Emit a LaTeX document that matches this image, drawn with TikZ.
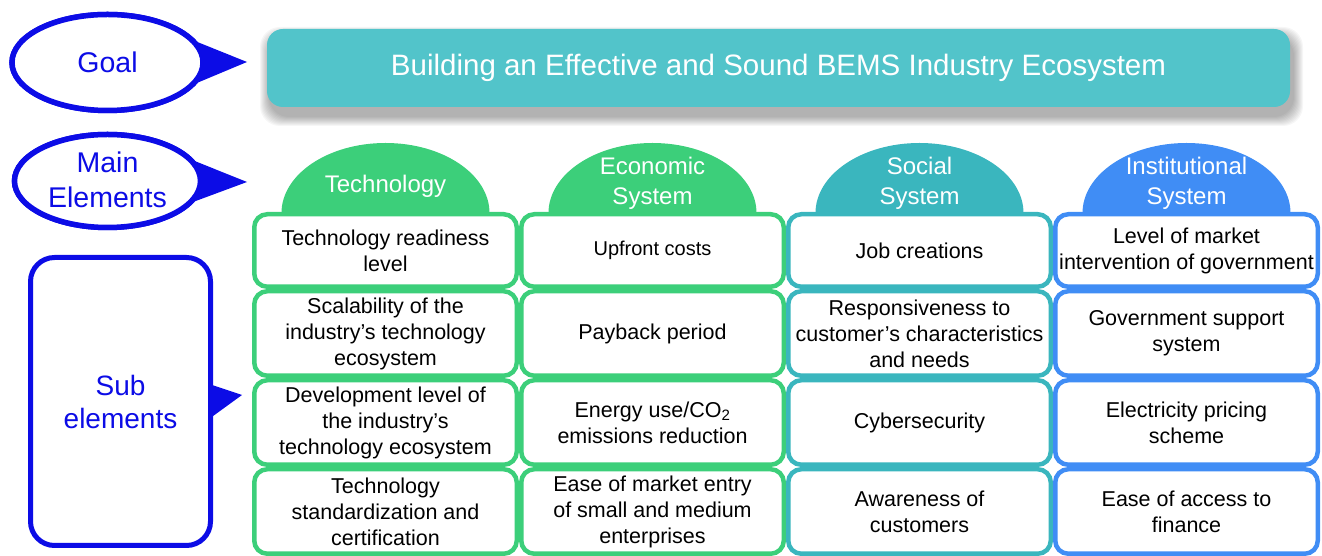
\documentclass[tikz,border=0pt]{standalone}
\usepackage{fontspec}
\setmainfont{Liberation Sans}
\usetikzlibrary{shapes.geometric}
\definecolor{cgreen}{HTML}{3CCF7A}
\definecolor{cteal}{HTML}{3AB6BE}
\definecolor{cblue}{HTML}{408DF5}
\definecolor{goalteal}{HTML}{52C4CA}
\definecolor{lblue}{HTML}{0C0CE6}
\begin{document}
\begin{tikzpicture}[x=1pt,y=1pt,
  cell/.style={draw, line width=4.5pt, rounded corners=13pt, fill=white,
    minimum width=262.5pt, inner sep=0pt, align=center, text=black,
    font=\fontsize{21.5}{26}\selectfont},
  rowa/.style={cell, minimum height=72.5pt},
  rowb/.style={cell, minimum height=84.5pt},
  domelabel/.style={text=white, align=center, inner sep=0pt, font=\fontsize{24}{30}\selectfont},
  lab/.style={text=lblue, align=center, inner sep=0pt, font=\fontsize{28.5}{35}\selectfont},
  callout/.style={ellipse, draw=lblue, line width=5.5pt, fill=white, inner sep=0pt}]
\useasboundingbox (0,0) rectangle (1322,556);

% ---------- goal bar with soft shadow ----------
\foreach \i in {1,...,10} {
  \fill[black, opacity=0.035, rounded corners=20pt]
    ({270-\i},{440-\i}) rectangle ({1293+\i},{519+\i});
}
\node[fill=goalteal, rounded corners=16pt, minimum width=1023pt, minimum height=78pt,
      inner sep=0pt, text=white, font=\fontsize{29.5}{34}\selectfont]
  (goalbar) at (778.5,488) {Building an Effective and Sound BEMS Industry Ecosystem};

% ---------- left callouts ----------
\node[callout, minimum width=191pt, minimum height=96pt] (goal) at (107.5,493.5) {};
\coordinate (goaltip) at (247,494);
\fill[lblue] ([xshift=-8pt]goal.17) -- (goaltip) -- ([xshift=-8pt]goal.-17) -- cycle;
\node[callout, minimum width=191pt, minimum height=96pt] at (107.5,493.5) {};
\node[lab] (goaltext) at (107.5,493.5) {Goal};

\node[callout, minimum width=186pt, minimum height=93pt] (mainel) at (107.5,375) {};
\coordinate (maintip) at (247,374);
\fill[lblue] ([xshift=-8pt]mainel.17) -- (maintip) -- ([xshift=-8pt]mainel.-17) -- cycle;
\node[callout, minimum width=186pt, minimum height=93pt] at (107.5,375) {};
\node[lab] (maintext) at (107.5,376) {Main\\Elements};

\coordinate (subtip) at (242,161);
\node[draw=lblue, line width=5pt, rounded corners=24pt, fill=white, minimum width=180pt,
      minimum height=288pt, inner sep=0pt] (subel) at (120.5,154.5) {};
\fill[lblue] ([xshift=-4pt,yshift=17.5pt]subel.east) -- (subtip) -- ([xshift=-4pt,yshift=-17.5pt]subel.east) -- cycle;
\node[lab, font=\fontsize{28}{33}\selectfont] (subtext) at (120.5,154) {Sub\\elements};

% ---------- domes ----------
\foreach \cx/\col in {385.5/cgreen, 652.5/cgreen, 919.5/cteal, 1186.5/cblue} {
  \fill[\col] ({\cx-104},336) -- ({\cx-104},343)
    arc[start angle=180, end angle=0, x radius=104, y radius=70]
    -- ({\cx+104},336) -- cycle;
}
\node[domelabel] (d1) at (385.5,370) {Technology};
\node[domelabel] (d2) at (652.5,373) {Economic\\System};
\node[domelabel] (d3) at (919.5,373) {Social\\System};
\node[domelabel] (d4) at (1186.5,373) {Institutional\\System};

% ---------- cells: Technology ----------
\node[rowa, draw=cgreen] (t1) at (385.5,305.5) {Technology readiness\\level};
\node[rowb, draw=cgreen] (t2) at (385.5,222.5) {Scalability of the\\industry’s technology\\ecosystem};
\node[rowb, draw=cgreen] (t3) at (385.5,133.5) {Development level of\\the industry’s\\technology ecosystem};
\node[rowb, draw=cgreen] (t4) at (385.5,44.5) {Technology\\standardization and\\certification};

% ---------- cells: Economic System ----------
\node[rowa, draw=cgreen] (e1) at (652.5,305.5) {\fontsize{20}{24}\selectfont Upfront costs};
\node[rowb, draw=cgreen] (e2) at (652.5,222.5) {Payback period};
\node[rowb, draw=cgreen] (e3) at (652.5,133.5) {Energy use/CO\textsubscript{2}\\emissions reduction};
\node[rowb, draw=cgreen] (e4) at (652.5,44.5) {Ease of market entry\\of small and medium\\enterprises};

% ---------- cells: Social System ----------
\node[rowa, draw=cteal] (s1) at (919.5,305.5) {Job creations};
\node[rowb, draw=cteal] (s2) at (919.5,222.5) {Responsiveness to\\customer’s characteristics\\and needs};
\node[rowb, draw=cteal] (s3) at (919.5,133.5) {Cybersecurity};
\node[rowb, draw=cteal] (s4) at (919.5,44.5) {Awareness of\\customers};

% ---------- cells: Institutional System ----------
\node[rowa, draw=cblue] (i1) at (1186.5,305.5) {Level of market\\intervention of government};
\node[rowb, draw=cblue] (i2) at (1186.5,222.5) {Government support\\system};
\node[rowb, draw=cblue] (i3) at (1186.5,133.5) {Electricity pricing\\scheme};
\node[rowb, draw=cblue] (i4) at (1186.5,44.5) {Ease of access to\\finance};
\end{tikzpicture}
\end{document}
